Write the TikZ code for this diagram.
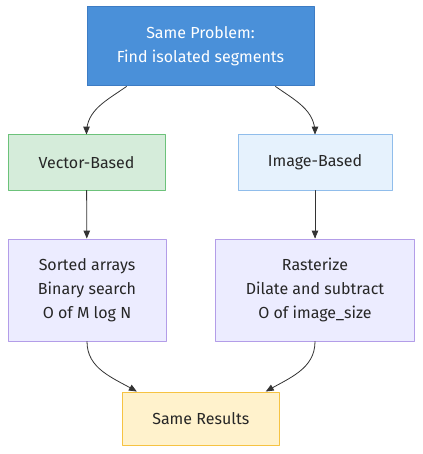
\documentclass[tikz,border=0pt]{standalone}
\usepackage{fontspec}
\setmainfont{Fira Sans}
\usepackage{tikz}
\usetikzlibrary{arrows}

\definecolor{topfill}{HTML}{4A90D9}
\definecolor{topline}{HTML}{3D7CC4}
\definecolor{vecfill}{HTML}{D5ECDA}
\definecolor{vecline}{HTML}{6CC27A}
\definecolor{imgfill}{HTML}{E6F2FD}
\definecolor{imgline}{HTML}{90BDEB}
\definecolor{stepfill}{HTML}{ECECFF}
\definecolor{stepline}{HTML}{B39DE8}
\definecolor{resfill}{HTML}{FFF2CC}
\definecolor{resline}{HTML}{F6C342}
\definecolor{edgegray}{HTML}{333333}

\begin{document}
\begin{tikzpicture}[line cap=round,line join=round,>=triangle 45,x=1pt,y=-1pt,
  box/.style={draw,line width=1pt,align=center,inner sep=0pt,
    font=\fontsize{16}{24}\selectfont,text=black!85},
  edge/.style={->,draw=edgegray,line width=0.8pt}]
\useasboundingbox (0,0) rectangle (422,454);

\node [box,fill=topfill,draw=topline,text=white,minimum width=227pt,minimum height=79pt] (prob) at (200.5,46.5) {Same Problem:\\Find isolated segments};
\node [box,fill=vecfill,draw=vecline,minimum width=157pt,minimum height=55pt] (vec) at (86.5,162.5) {Vector-Based};
\node [box,fill=imgfill,draw=imgline,minimum width=154pt,minimum height=55pt] (img) at (315,162.5) {Image-Based};
\node [box,fill=stepfill,draw=stepline,minimum width=158pt,minimum height=102pt] (sorted) at (87,290) {Sorted arrays\\Binary search\\O of M log N};
\node [box,fill=stepfill,draw=stepline,minimum width=199pt,minimum height=102pt] (raster) at (315,290) {Rasterize\\Dilate and subtract\\O of image\_size};
\node [box,fill=resfill,draw=resline,minimum width=157pt,minimum height=53pt] (res) at (200.8,418.5) {Same Results};

% connectors
\draw [edge] ([xshift=40pt]prob.south west) to[out=-145,in=90] (vec.north);
\draw [edge] ([xshift=-39pt]prob.south east) to[out=-35,in=90] (img.north);
\draw [edge] (vec) -- (sorted);
\draw [edge] (img) -- (raster);
\draw [edge] (sorted.south) to[out=-90,in=150] ([xshift=15pt]res.north west);
\draw [edge] (raster.south) to[out=-90,in=30] ([xshift=-14pt]res.north east);

\end{tikzpicture}
\end{document}
